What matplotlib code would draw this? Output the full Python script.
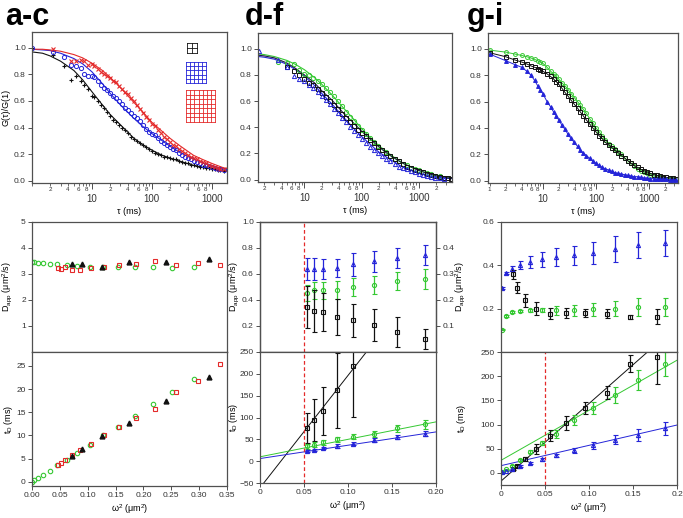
import numpy as np
import matplotlib
matplotlib.use("Agg")
import matplotlib.pyplot as plt

plt.rcParams["font.family"] = ["Liberation Sans", "DejaVu Sans"]
plt.rcParams["mathtext.fontset"] = "custom"
plt.rcParams["mathtext.rm"] = "Liberation Sans"
plt.rcParams["mathtext.it"] = "Liberation Sans:italic"

VERDE = "#35c832"
AZUL = "#2424d8"
ROJO = "#e42a2a"
NEGRO = "#111111"

# ---------------- datos panel a-c (curvas de correlacion) ----------------
tau_ac = [1, 2.2, 3.4, 4.5, 5.5, 6.5, 7.5, 8.5, 10, 11, 12.5, 14, 16, 18, 20, 22.5, 25, 28, 32, 36,
          40, 45, 50, 56, 63, 71, 80, 90, 100, 112, 125, 140, 160, 180, 200, 225, 250, 280, 320, 360,
          400, 450, 500, 560, 630, 710, 800, 900, 1000, 1120, 1250, 1400, 1600]
g_ac_negro = [1.00, 0.95, 0.86, 0.76, 0.79, 0.75, 0.72, 0.69, 0.64, 0.63, 0.60, 0.57, 0.55, 0.52, 0.49, 0.46,
              0.44, 0.42, 0.40, 0.38, 0.36, 0.33, 0.31, 0.30, 0.28, 0.27, 0.25, 0.24, 0.22, 0.21, 0.20, 0.19,
              0.18, 0.175, 0.17, 0.165, 0.16, 0.15, 0.14, 0.135, 0.13, 0.12, 0.115, 0.11, 0.105, 0.10, 0.097,
              0.093, 0.09, 0.085, 0.08, 0.078, 0.075]
g_ac_azul = [1.00, 0.97, 0.93, 0.87, 0.86, 0.85, 0.80, 0.79, 0.79, 0.78, 0.75, 0.72, 0.70, 0.68, 0.66, 0.64,
             0.62, 0.60, 0.58, 0.55, 0.53, 0.51, 0.49, 0.47, 0.45, 0.42, 0.39, 0.37, 0.355, 0.34, 0.32, 0.30,
             0.28, 0.265, 0.25, 0.24, 0.23, 0.21, 0.19, 0.18, 0.17, 0.16, 0.15, 0.14, 0.13, 0.12, 0.115,
             0.11, 0.10, 0.095, 0.09, 0.085, 0.08]
g_ac_rojo = [np.nan, 0.99, np.nan, 0.90, 0.90, 0.91, 0.90, 0.87, 0.88, 0.86, 0.84, 0.82, 0.80, 0.79, 0.77, 0.75,
             0.74, 0.71, 0.69, 0.67, 0.65, 0.62, 0.60, 0.57, 0.54, 0.51, 0.48, 0.46, 0.43, 0.41, 0.38, 0.36,
             0.33, 0.31, 0.29, 0.27, 0.26, 0.24, 0.22, 0.21, 0.19, 0.18, 0.17, 0.16, 0.15, 0.14, 0.13,
             0.12, 0.11, 0.10, 0.095, 0.09, 0.085]
tau_ac_fit = [1, 1.5, 2, 3, 5, 7, 10, 15, 20, 30, 50, 70, 100, 150, 200, 300, 500, 700, 1000, 1500, 1800]
fit_ac_negro = [0.97, 0.96, 0.94, 0.90, 0.83, 0.76, 0.67, 0.57, 0.50, 0.42, 0.32, 0.27, 0.23, 0.19, 0.17,
                0.145, 0.115, 0.10, 0.09, 0.078, 0.074]
fit_ac_azul = [0.99, 0.985, 0.98, 0.96, 0.92, 0.88, 0.82, 0.73, 0.66, 0.57, 0.47, 0.41, 0.355, 0.30, 0.26,
               0.21, 0.16, 0.135, 0.11, 0.09, 0.085]
fit_ac_rojo = [0.99, 0.99, 0.985, 0.975, 0.95, 0.925, 0.885, 0.83, 0.78, 0.70, 0.59, 0.52, 0.44, 0.37, 0.32,
               0.26, 0.19, 0.16, 0.13, 0.10, 0.09]

# ---------------- datos panel d-f ----------------
tau_df = [1.6, 3.4, 5, 6.5, 8, 10, 12, 14, 17, 20, 24, 28, 33, 39, 46, 54, 64, 75, 88, 100, 120, 140, 165,
          195, 230, 270, 320, 380, 450, 530, 620, 730, 860, 1000, 1200, 1400, 1650, 1950, 2300, 2700, 3200, 3700]
g_df_verde = [np.nan, 0.90, 0.89, 0.88, 0.84, 0.81, 0.80, 0.78, 0.75, 0.73, 0.70, 0.67, 0.64, 0.60, 0.56, 0.52,
              0.48, 0.45, 0.41, 0.38, 0.35, 0.32, 0.29, 0.26, 0.23, 0.21, 0.18, 0.16, 0.14, 0.12, 0.11, 0.09,
              0.08, 0.07, 0.06, 0.05, 0.04, 0.03, 0.025, np.nan, np.nan, np.nan]
g_df_negro = [np.nan, np.nan, 0.86, 0.83, 0.80, 0.77, 0.74, 0.72, 0.69, 0.66, 0.63, 0.60, 0.57, 0.54, 0.50, 0.47,
              0.44, 0.41, 0.38, 0.36, 0.33, 0.30, 0.28, 0.25, 0.23, 0.20, 0.18, 0.16, 0.14, 0.12, 0.10, 0.09,
              0.075, 0.065, 0.055, 0.045, 0.035, 0.03, 0.02, 0.015, 0.01, 0.008]
g_df_azul = [0.98, 0.91, 0.86, 0.79, 0.77, 0.75, 0.72, 0.70, 0.67, 0.64, 0.61, 0.58, 0.54, 0.51, 0.47, 0.44,
             0.40, 0.37, 0.34, 0.31, 0.28, 0.25, 0.23, 0.20, 0.18, 0.16, 0.14, 0.12, 0.10, 0.09, 0.08, 0.065,
             0.055, 0.045, 0.035, 0.03, 0.02, 0.015, 0.01, 0.005, np.nan, np.nan]
tau_df_fit = [1.6, 2, 3, 5, 7, 10, 15, 20, 30, 50, 70, 100, 150, 200, 300, 500, 700, 1000, 1500, 2000, 3000, 3800]
fit_df_verde = [0.96, 0.955, 0.94, 0.91, 0.88, 0.84, 0.78, 0.73, 0.65, 0.54, 0.47, 0.39, 0.31, 0.26, 0.20,
                0.13, 0.10, 0.07, 0.045, 0.03, 0.02, 0.015]
fit_df_azul = [0.94, 0.935, 0.92, 0.88, 0.84, 0.79, 0.72, 0.66, 0.58, 0.47, 0.40, 0.33, 0.26, 0.21, 0.16,
               0.10, 0.075, 0.05, 0.03, 0.02, 0.01, 0.008]
fit_df_negro = [0.95, 0.945, 0.93, 0.89, 0.85, 0.80, 0.74, 0.68, 0.61, 0.50, 0.44, 0.37, 0.30, 0.25, 0.19,
                0.13, 0.10, 0.07, 0.045, 0.03, 0.015, 0.01]

# ---------------- datos panel g-i ----------------
tau_gi = [1, 2, 3, 4, 5, 6, 7, 8, 9, 10, 12, 14, 16, 18, 20, 23, 26, 30, 34, 39, 45, 51, 58, 66, 76, 87, 100,
          115, 130, 150, 175, 200, 230, 265, 300, 350, 400, 460, 530, 610, 700, 800, 920, 1060, 1220, 1400,
          1600, 1850, 2100, 2450, 2800, 3200]
g_gi_verde = [0.99, 0.975, 0.96, 0.95, 0.94, 0.93, 0.92, 0.91, 0.90, 0.89, 0.86, 0.83, 0.81, 0.79, 0.77, 0.74,
              0.72, 0.69, 0.66, 0.63, 0.60, 0.57, 0.54, 0.51, 0.47, 0.44, 0.40, 0.37, 0.34, 0.31, 0.28, 0.26,
              0.24, 0.22, 0.20, 0.17, 0.15, 0.13, 0.11, 0.09, 0.075, 0.065, 0.055, 0.045, 0.035, 0.03, 0.025,
              0.02, 0.015, 0.012, 0.01, 0.01]
g_gi_negro = [0.97, 0.94, 0.915, 0.90, 0.885, 0.87, 0.86, 0.85, 0.84, 0.83, 0.81, 0.79, 0.77, 0.75, 0.73, 0.70,
              0.67, 0.64, 0.61, 0.58, 0.55, 0.52, 0.49, 0.46, 0.43, 0.40, 0.37, 0.34, 0.32, 0.29, 0.27, 0.25,
              0.23, 0.21, 0.19, 0.17, 0.15, 0.13, 0.115, 0.10, 0.085, 0.075, 0.065, 0.055, 0.045, 0.04, 0.035,
              0.03, 0.025, 0.02, 0.02, 0.015]
g_gi_azul = [0.96, 0.91, 0.88, 0.86, 0.83, 0.80, 0.76, 0.72, 0.69, 0.66, 0.60, 0.56, 0.52, 0.49, 0.46, 0.42,
             0.39, 0.35, 0.32, 0.29, 0.26, 0.23, 0.21, 0.19, 0.17, 0.15, 0.13, 0.115, 0.10, 0.09, 0.08, 0.07,
             0.06, 0.055, 0.05, 0.045, 0.04, 0.035, 0.03, 0.03, 0.025, 0.02, 0.02, 0.015, 0.015, 0.01, 0.01,
             0.01, 0.01, 0.005, 0.005, 0.005]

# ---------------- datos fila media / inferior, columna a-c ----------------
w2_A_verde = [0.000, 0.004, 0.011, 0.020, 0.032, 0.045, 0.062, 0.081, 0.104, 0.128, 0.155, 0.184, 0.217, 0.252, 0.290]
D_A_verde = [3.46, 3.45, 3.44, 3.42, 3.40, 3.38, 3.33, 3.29, 3.28, 3.28, 3.26, 3.26, 3.26, 3.23, 3.26]
t_A_verde = [0.0, 0.3, 0.9, 1.4, 2.4, 3.6, 4.7, 6.3, 7.9, 10.0, 11.9, 14.3, 16.8, 19.4, 22.1]
w2_A_rojo = [0.047, 0.052, 0.060, 0.071, 0.086, 0.105, 0.129, 0.156, 0.187, 0.220, 0.258, 0.298, 0.338]
D_A_rojo = [3.23, 3.21, 3.28, 3.15, 3.17, 3.23, 3.26, 3.33, 3.40, 3.51, 3.36, 3.42, 3.36]
t_A_rojo = [3.7, 4.1, 4.7, 5.7, 6.8, 8.2, 10.0, 11.9, 13.8, 15.8, 19.3, 21.7, 25.4]
w2_A_negro = [0.072, 0.090, 0.125, 0.174, 0.240, 0.318]
D_A_negro = [3.38, 3.38, 3.26, 3.46, 3.46, 3.56]
t_A_negro = [5.6, 7.0, 9.9, 12.7, 17.5, 22.6]

# ---------------- columna d-f ----------------
w2_B = [0.053, 0.061, 0.072, 0.087, 0.106, 0.130, 0.156, 0.187]
D_B_azul = [0.641, 0.641, 0.638, 0.646, 0.674, 0.697, 0.726, 0.744]
eD_B_azul = [0.085, 0.085, 0.077, 0.07, 0.09, 0.08, 0.077, 0.077]
D_B_verde = [0.456, 0.474, 0.474, 0.479, 0.497, 0.518, 0.544, 0.559]
eD_B_verde = [0.06, 0.065, 0.065, 0.07, 0.07, 0.07, 0.07, 0.077]
D_B_negro = [0.173, 0.158, 0.154, 0.135, 0.122, 0.105, 0.077, 0.051]   # eje derecho
eD_B_negro = [0.08, 0.08, 0.073, 0.07, 0.064, 0.062, 0.056, 0.038]
t_B_negro = [76, 95, 115, 162, 219]
et_B_negro = [35, 48, 55, 85, 118]
t_B_verde = [34, 38, 43, 50, 56, 63, 75, 84]
et_B_verde = [5, 5, 5, 6, 6, 7, 8, 10]
t_B_azul = [23, 26, 30, 35, 40, 48, 56, 63]
et_B_azul = [3, 3, 3, 4, 4, 5, 5, 6]
# rectas de ajuste (pendiente, ordenada) negro, verde, azul
pend_B = [2573, 400, 305]
ord_B = [-61, 10, 6]

# ---------------- columna g-i ----------------
w2_C = [0.001, 0.006, 0.012, 0.022, 0.033, 0.047, 0.063, 0.083, 0.105, 0.130, 0.156, 0.186]
D_C_azul = [0.295, 0.366, 0.385, 0.403, 0.415, 0.428, 0.438, 0.446, 0.457, 0.477, 0.495, 0.503]
eD_C_azul = [0.004, 0.005, 0.01, 0.018, 0.028, 0.035, 0.04, 0.045, 0.05, 0.06, 0.06, 0.06]
D_C_verde = [0.103, 0.165, 0.185, 0.189, 0.192, 0.195, 0.192, 0.192, 0.197, 0.200, 0.208, 0.208]
eD_C_verde = [0.003, 0.004, 0.005, 0.006, 0.008, 0.01, 0.02, 0.025, 0.03, 0.035, 0.04, 0.04]
w2_C_negro = [0.0135, 0.018, 0.027, 0.040, 0.056, 0.074, 0.096, 0.120, 0.147, 0.177]
D_C_negro = [0.358, 0.297, 0.238, 0.200, 0.177, 0.180, 0.180, 0.177, 0.162, 0.162]
eD_C_negro = [0.02, 0.025, 0.032, 0.03, 0.025, 0.025, 0.02, 0.02, 0.01, 0.035]
t_C_negro = [8, 14, 29, 50, 77, 103, 134, 166, 226, 240]
et_C_negro = [2, 3, 4, 10, 12, 14, 13, 14, 17, 57]
t_C_verde = [2, 8, 15, 27, 44, 62, 81, 110, 134, 161, 192, 225]
et_C_verde = [1, 1, 2, 2, 3, 4, 8, 10, 12, 17, 21, 25]
t_C_azul = [1, 4, 8, 14, 20, 28, 36, 47, 57, 69, 79, 92]
et_C_azul = [0.5, 1, 1, 2, 2, 3, 4, 5, 7, 9, 12, 13]
pend_C = [1604, 1035, 420]
ord_C = [-17, 26, 15]

W, H = 683, 518
fig = plt.figure(figsize=(W / 100, H / 100), dpi=100)


def ejes(l, t, r, b):
    # caja en pixeles de la imagen original
    ax = fig.add_axes([l / W, 1 - b / H, (r - l) / W, (b - t) / H])
    for sp in ax.spines.values():
        sp.set_color("#505050")
        sp.set_linewidth(0.9)
    ax.tick_params(direction="out", length=3, width=0.6, colors="#333333", labelsize=6, pad=1.5)
    return ax


def etiqueta_y(ax, texto, xpix, l, r):
    # pone el titulo del eje y en una columna fija de pixeles
    ax.set_ylabel(texto, fontsize=6.5)
    ax.yaxis.set_label_coords((xpix - l) / (r - l), 0.5)


def eje_tau(ax, xmin, xmax, uno=False):
    ax.set_xscale("log")
    ax.set_xlim(xmin, xmax)
    ax.set_ylim(-0.018, 1.12)
    ax.set_yticks([0, 0.2, 0.4, 0.6, 0.8, 1.0])
    ax.set_yticklabels(["0.0", "0.2", "0.4", "0.6", "0.8", "1.0"])
    mayores = [v for v in (10, 100, 1000) if xmin <= v <= xmax]
    ax.set_xticks(mayores, labels=[str(v) for v in mayores])
    menores, etiq = [], []
    for dec in (1, 10, 100, 1000):
        for k in range(1, 10):
            v = k * dec
            if xmin <= v <= xmax and v not in mayores:
                menores.append(v)
                etiq.append(str(k) if (k in (2, 4, 6, 8) or (k == 1 and uno)) else "")
    ax.set_xticks(menores, labels=etiq, minor=True)
    ax.tick_params(axis="x", which="major", labelsize=7, length=4, pad=4)
    ax.tick_params(axis="x", which="minor", labelsize=4.5, length=2, width=0.5, pad=1, colors="#333333")
    ax.set_xlabel("τ (ms)", fontsize=6.5, labelpad=2)


def rejilla(ax, x0, y0, ancho, alto, n, color):
    for i in range(n + 1):
        ax.plot([x0 + ancho * i / n] * 2, [y0, y0 + alto], color=color, lw=0.6, transform=ax.transAxes)
        ax.plot([x0, x0 + ancho], [y0 + alto * i / n] * 2, color=color, lw=0.6, transform=ax.transAxes)


# ---------- fila superior ----------
axA = ejes(32, 32, 227, 183)
axA.plot(tau_ac_fit, fit_ac_negro, color=NEGRO, lw=0.8)
axA.plot(tau_ac_fit, fit_ac_azul, color=AZUL, lw=0.8)
axA.plot(tau_ac_fit, fit_ac_rojo, color=ROJO, lw=0.8)
axA.plot(tau_ac, g_ac_negro, "+", color=NEGRO, ms=3.5, mew=0.8)
axA.plot(tau_ac, g_ac_azul, "o", color=AZUL, mfc="none", ms=3, mew=0.7)
axA.plot(tau_ac, g_ac_rojo, "x", color=ROJO, ms=3, mew=0.8)
eje_tau(axA, 1, 1800)
etiqueta_y(axA, "G(τ)/G(1)", 11, 32, 227)
rejilla(axA, 0.795, 0.861, 0.051, 0.066, 2, NEGRO)
rejilla(axA, 0.790, 0.662, 0.103, 0.139, 5, AZUL)
rejilla(axA, 0.790, 0.404, 0.149, 0.212, 7, ROJO)

axB = ejes(258, 33, 452, 182)
axB.plot(tau_df_fit, fit_df_verde, color=VERDE, lw=0.8)
axB.plot(tau_df_fit, fit_df_azul, color=AZUL, lw=0.8)
axB.plot(tau_df_fit, fit_df_negro, color="#1a1a40", lw=0.8)
axB.plot(tau_df, g_df_verde, "o", color=VERDE, mfc="none", ms=3, mew=0.7)
axB.plot(tau_df, g_df_negro, "s", color=NEGRO, mfc="none", ms=2.8, mew=0.7)
axB.plot(tau_df, g_df_azul, "^", color=AZUL, mfc="none", ms=3, mew=0.7)
eje_tau(axB, 1.55, 3800)

axC = ejes(488, 33, 678, 183)
axC.plot(tau_gi, g_gi_verde, "-o", color=VERDE, mfc="none", ms=2.8, mew=0.7, lw=0.7)
axC.plot(tau_gi, g_gi_negro, "-s", color=NEGRO, mfc="none", ms=2.6, mew=0.7, lw=0.7)
axC.plot(tau_gi, g_gi_azul, "-^", color=AZUL, ms=2.8, mew=0.7, lw=0.7)
eje_tau(axC, 0.93, 3500, uno=True)

etiq_D = r"D$_{\rm app}$ (μm$^2$/s)"
etiq_t = r"t$_{\rm D}$ (ms)"
etiq_w = r"ω$^2$ (μm$^2$)"

# ---------- columna a-c, medio e inferior ----------
axAm = ejes(32, 222, 227, 352)
axAm.plot(w2_A_verde, D_A_verde, "o", color=VERDE, mfc="none", ms=3.2, mew=0.8)
axAm.plot(w2_A_rojo, D_A_rojo, "s", color=ROJO, mfc="none", ms=3.2, mew=0.8)
axAm.plot(w2_A_negro, D_A_negro, "^", color=NEGRO, ms=3.5)
axAm.set_xlim(0, 0.35)
axAm.set_ylim(0, 5)
axAm.set_yticks([1, 2, 3, 4, 5])
axAm.set_xticks(np.arange(0, 0.351, 0.05), labels=[])
etiqueta_y(axAm, etiq_D, 14, 32, 227)

axAb = ejes(32, 352, 227, 486)
axAb.plot(w2_A_verde, t_A_verde, "o", color=VERDE, mfc="none", ms=3.2, mew=0.8)
axAb.plot(w2_A_rojo, t_A_rojo, "s", color=ROJO, mfc="none", ms=3.2, mew=0.8)
axAb.plot(w2_A_negro, t_A_negro, "^", color=NEGRO, ms=3.5)
axAb.set_xlim(0, 0.35)
axAb.set_ylim(-0.9, 28)
axAb.set_yticks([0, 5, 10, 15, 20, 25])
axAb.set_xticks(np.arange(0, 0.351, 0.05),
                labels=["0.00", "0.05", "0.10", "0.15", "0.20", "0.25", "0.30", "0.35"])
etiqueta_y(axAb, etiq_t, 15, 32, 227)
axAb.set_xlabel(etiq_w, fontsize=6.5, labelpad=2)

eb = dict(capsize=1.8, elinewidth=0.9, capthick=0.9, ms=3, mew=0.8, ls="none")

# ---------- columna d-f ----------
axBm = ejes(260, 222, 436, 352)
axBm.errorbar(w2_B, D_B_azul, yerr=eD_B_azul, fmt="^", color=AZUL, mfc="none", **eb)
axBm.errorbar(w2_B, D_B_verde, yerr=eD_B_verde, fmt="o", color=VERDE, mfc="none", **eb)
axBm.set_xlim(0, 0.2)
axBm.set_ylim(0, 1.0)
axBm.set_yticks([0.2, 0.4, 0.6, 0.8, 1.0])
axBm.set_xticks([], labels=[])
axBm.axvline(0.05, color=ROJO, ls=(0, (3, 2)), lw=0.9)
etiqueta_y(axBm, etiq_D, 241, 260, 436)
axBd = axBm.twinx()
axBd.errorbar(w2_B, D_B_negro, yerr=eD_B_negro, fmt="s", color=NEGRO, mfc="none", **eb)
axBd.set_ylim(0, 0.5)
axBd.set_yticks([0.1, 0.2, 0.3, 0.4])
axBd.tick_params(direction="out", length=3, width=0.6, colors="#333333", labelsize=6, pad=1.5)
for sp in axBd.spines.values():
    sp.set_color("#505050")
    sp.set_linewidth(0.9)

axBb = ejes(260, 352, 436, 483)
xr = np.array([0, 0.2])
for m, b, c in zip(pend_B, ord_B, [NEGRO, VERDE, AZUL]):
    axBb.plot(xr, m * xr + b, color=c, lw=0.7)
axBb.errorbar(w2_B[:len(t_B_negro)], t_B_negro, yerr=et_B_negro, fmt="s", color=NEGRO, mfc="none", **eb)
axBb.errorbar(w2_B, t_B_verde, yerr=et_B_verde, fmt="o", color=VERDE, mfc="none", **eb)
axBb.errorbar(w2_B, t_B_azul, yerr=et_B_azul, fmt="^", color=AZUL, mfc="none", **eb)
axBb.axvline(0.05, color=ROJO, ls=(0, (3, 2)), lw=0.9)
axBb.set_xlim(0, 0.2)
axBb.set_ylim(-50, 250)
axBb.set_yticks([-50, 0, 50, 100, 150, 200, 250])
axBb.set_xticks([0, 0.05, 0.10, 0.15, 0.20], labels=["0", "0.05", "0.10", "0.15", "0.20"])
etiqueta_y(axBb, etiq_t, 240, 260, 436)
axBb.set_xlabel(etiq_w, fontsize=6.5, labelpad=2)

# ---------- columna g-i ----------
axCm = ejes(501, 222, 677, 352)
axCm.errorbar(w2_C, D_C_azul, yerr=eD_C_azul, fmt="^", color=AZUL, mfc="none", **eb)
axCm.errorbar(w2_C, D_C_verde, yerr=eD_C_verde, fmt="o", color=VERDE, mfc="none", **eb)
axCm.errorbar(w2_C_negro, D_C_negro, yerr=eD_C_negro, fmt="s", color=NEGRO, mfc="none", **eb)
axCm.set_xlim(0, 0.2)
axCm.set_ylim(0, 0.6)
axCm.set_yticks([0.2, 0.4, 0.6])
axCm.set_xticks([], labels=[])
etiqueta_y(axCm, etiq_D, 467, 501, 677)

axCb = ejes(501, 352, 677, 485)
for m, b, c in zip(pend_C, ord_C, [NEGRO, VERDE, AZUL]):
    axCb.plot(xr, m * xr + b, color=c, lw=0.7)
axCb.errorbar(w2_C_negro, t_C_negro, yerr=et_C_negro, fmt="s", color=NEGRO, mfc="none", **eb)
axCb.errorbar(w2_C, t_C_verde, yerr=et_C_verde, fmt="o", color=VERDE, mfc="none", **eb)
axCb.errorbar(w2_C, t_C_azul, yerr=et_C_azul, fmt="^", color=AZUL, mfc="none", **eb)
axCb.axvline(0.05, color=ROJO, ls=(0, (3, 2)), lw=0.9)
axCb.set_xlim(0, 0.2)
axCb.set_ylim(-25, 250)
axCb.set_yticks([0, 50, 100, 150, 200, 250])
axCb.set_xticks([0, 0.05, 0.10, 0.15, 0.20], labels=["0", "0.05", "0.10", "0.15", "0.2"])
etiqueta_y(axCb, etiq_t, 468, 501, 677)
axCb.set_xlabel(etiq_w, fontsize=6.5, labelpad=2)

# titulos de columna
for x, txt in [(5, "a-c"), (245, "d-f"), (467, "g-i")]:
    fig.text(x / W, 1 - 25 / H, txt, fontsize=22, fontweight="bold", va="baseline", ha="left")

fig.savefig("out.png", dpi=100)
